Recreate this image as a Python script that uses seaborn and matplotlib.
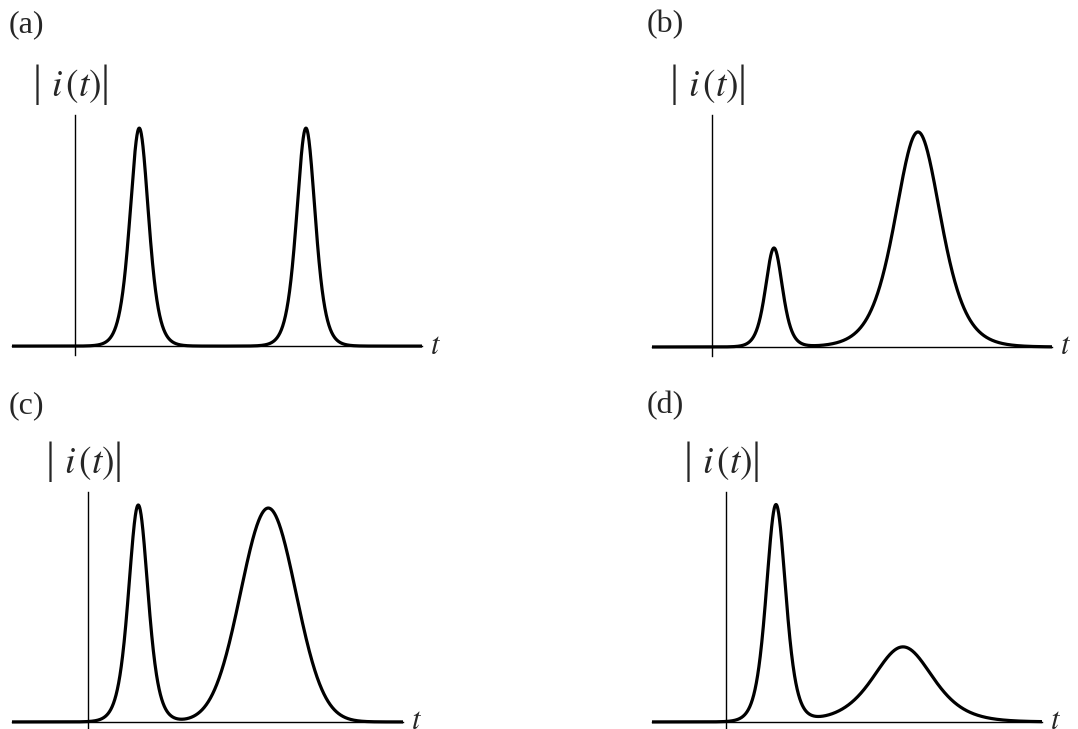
import numpy as np
import pandas as pd
import matplotlib
matplotlib.use("Agg")
import matplotlib.pyplot as plt
import seaborn as sns

# Pulse trains |i(t)|: two pulses per panel
panel_labels = ["(a)", "(b)", "(c)", "(d)"]
pulse_centers = [[0.643, 2.31], [0.62, 2.06], [0.503, 1.803], [0.50, 1.77]]
pulse_heights = [[1.00, 1.00], [0.46, 1.00], [1.00, 0.986], [1.00, 0.346]]
pulse_fwhm = [[0.22, 0.22], [0.20, 0.54], [0.23, 0.65], [0.23, 0.70]]
pulse_shapes = [["sech2", "sech2"], ["sech2", "sech2"],
                ["sech2", "gauss"], ["sech2", "sech2"]]

# Time window and amplitude range of each panel
t_limits = [(-0.63, 3.47), (-0.60, 3.40), (-0.76, 3.15), (-0.74, 3.16)]
amp_limits = [(-0.041, 1.06), (-0.042, 1.079), (-0.028, 1.06), (-0.028, 1.06)]

# Panel boxes in figure fraction [left, bottom, width, height]
boxes = [
    [0.0111, 0.5130, 0.3803, 0.3292],
    [0.6048, 0.5117, 0.3711, 0.3306],
    [0.0111, 0.0014, 0.3627, 0.3237],
    [0.6048, 0.0014, 0.3618, 0.3237],
]
label_pos = [(0.008, 0.966), (0.600, 0.966), (0.008, 0.444), (0.600, 0.444)]

sns.set_style("white")
plt.rcParams["font.family"] = ["Liberation Serif", "DejaVu Serif"]
plt.rcParams["mathtext.fontset"] = "stix"

fig = plt.figure(figsize=(10.78, 7.29), dpi=100)


def pulse(t, center, height, fwhm, shape):
    if shape == "gauss":
        sigma = fwhm / (2.0 * np.sqrt(2.0 * np.log(2.0)))
        return height * np.exp(-0.5 * ((t - center) / sigma) ** 2)
    tau = fwhm / (2.0 * np.arccosh(np.sqrt(2.0)))
    return height / np.cosh((t - center) / tau) ** 2


for k in range(4):
    ax = fig.add_axes(boxes[k])
    t0, t1 = t_limits[k]
    t = np.linspace(t0, t1, 1500)
    amp = np.zeros_like(t)
    for c, h, w, s in zip(pulse_centers[k], pulse_heights[k],
                          pulse_fwhm[k], pulse_shapes[k]):
        amp += pulse(t, c, h, w, s)
    df = pd.DataFrame({"t": t, "amp": amp})
    sns.lineplot(data=df, x="t", y="amp", ax=ax, color="black",
                 linewidth=2.3, estimator=None, sort=False)

    ax.set_xlim(t0, t1)
    ax.set_ylim(*amp_limits[k])
    ax.set_xticks([])
    ax.set_yticks([])
    ax.set_xlabel("")
    ax.set_ylabel("")
    ax.patch.set_alpha(0)
    for side in ("top", "right"):
        ax.spines[side].set_visible(False)
    ax.spines["left"].set_position(("data", 0))
    ax.spines["bottom"].set_position(("data", 0))
    for side in ("left", "bottom"):
        ax.spines[side].set_linewidth(1.0)
        ax.spines[side].set_color("black")

    # |i(t)| label centred over the vertical axis
    anchor = dict(xy=(0, 1), xycoords=("data", "axes fraction"),
                  textcoords="offset points", va="center",
                  annotation_clip=False)
    ax.annotate(r"$i\,(t)$", xytext=(1, 21), ha="center", fontsize=27,
                **anchor)
    for dx in (-27, 22):
        ax.annotate("|", xytext=(dx, 22), ha="center", fontsize=32,
                    fontweight="light", **anchor)

    ax.annotate(r"$t$", xy=(1, 0), xycoords=("axes fraction", "data"),
                xytext=(6, 0), textcoords="offset points", ha="left",
                va="center", fontsize=22, annotation_clip=False)

    fig.text(label_pos[k][0], label_pos[k][1], panel_labels[k],
             fontsize=23, ha="left", va="center")

fig.savefig("out.png", dpi=100, facecolor="white")
